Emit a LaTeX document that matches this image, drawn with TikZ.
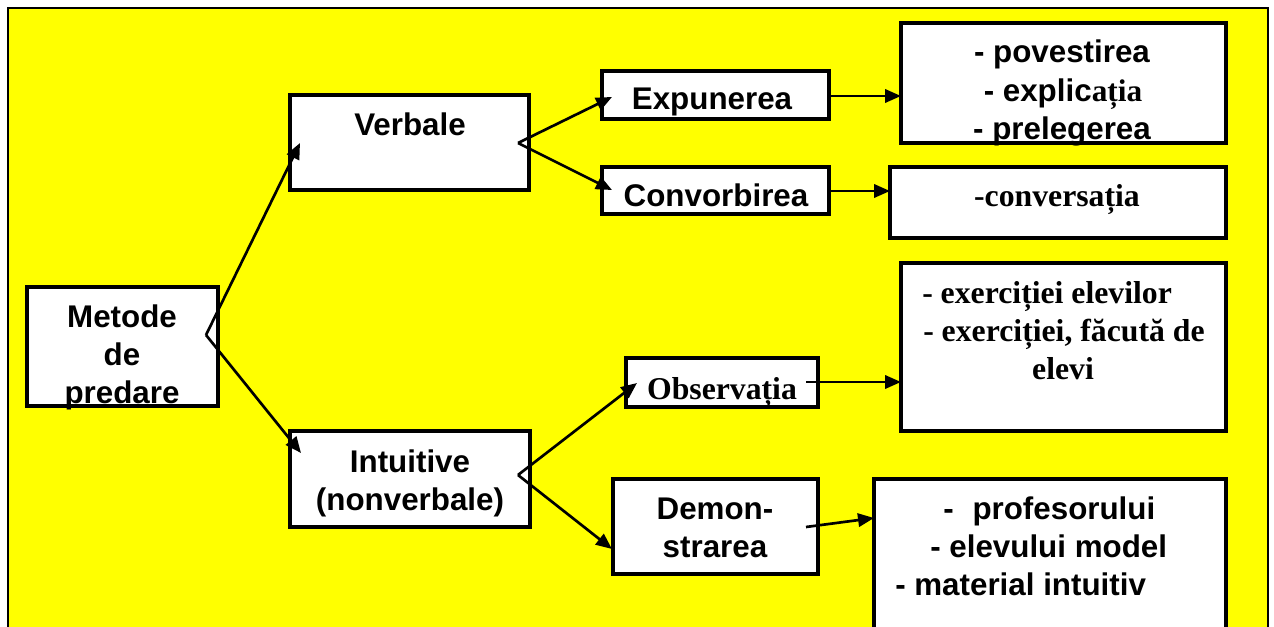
\documentclass[tikz,border=0pt]{standalone}
\usepackage{fontspec}
\setmainfont{Liberation Sans}
\newfontfamily\tnr{Liberation Serif}
\usetikzlibrary{arrows.meta,fit}
\definecolor{bgyellow}{RGB}{255,255,0}
\begin{document}
\begin{tikzpicture}[x=0.75pt,y=-0.75pt,
  box/.style={draw, line width=2.3pt, fill=white, inner sep=0pt},
  ar/.style={line width=2pt, -{Triangle[length=12pt,width=10pt]}},
  lbl/.style={font=\fontsize{23.5}{28.3}\selectfont\bfseries, inner sep=0pt, anchor=base, align=center},
  tlbl/.style={font=\fontsize{23.8}{28.3}\selectfont\tnr\bfseries, inner sep=0pt, anchor=base, align=center}]
\useasboundingbox (0,0) rectangle (1274,627);
\clip (0,0) rectangle (1274,627);
\fill[white] (0,0) rectangle (1274,627);
\draw[fill=bgyellow, line width=1.8pt] (8,8) rectangle (1268,660);

% boxes
\node[box, fit={(27,287)(218,406)}] (metode) {};
\node[box, fit={(290,95)(529,190)}] (verb) {};
\node[box, fit={(290,431)(530,527)}] (intu) {};
\node[box, fit={(602,71)(829,119)}] (expu) {};
\node[box, fit={(602,167)(829,214)}] (conv) {};
\node[box, fit={(901,23)(1226,143)}] (pove) {};
\node[box, fit={(890,167)(1226,238)}] (cvsa) {};
\node[box, fit={(626,358)(818,407)}] (obse) {};
\node[box, fit={(901,263)(1226,431)}] (exer) {};
\node[box, fit={(613,479)(818,574)}] (demo) {};
\node[box, fit={(874,479)(1226,660)}] (prof) {};

% connector end points
\coordinate (m0) at (206,335);
\coordinate (vtip) at (300,143);
\coordinate (itip) at (301,453);
\coordinate (v0) at (518,143);
\coordinate (etip) at (612,97);
\coordinate (ctip) at (612,190);
\coordinate (i0) at (518,475);
\coordinate (otip) at (637,383);
\coordinate (dtip) at (612,549);
\coordinate (e0) at (829,96);
\coordinate (e1) at (901,96);
\coordinate (c0) at (829,191);
\coordinate (c1) at (890,191);
\coordinate (o0) at (806,382);
\coordinate (o1) at (901,382);
\coordinate (d0) at (806,527);
\coordinate (d1) at (874,518);

\draw[ar] (m0) -- (vtip);
\draw[ar] (m0) -- (itip);
\draw[ar] (v0) -- (etip);
\draw[ar] (v0) -- (ctip);
\draw[ar] (i0) -- (otip);
\draw[ar] (i0) -- (dtip);
\draw[ar] (e0) -- (e1);
\draw[ar] (c0) -- (c1);
\draw[ar] (o0) -- (o1);
\draw[ar] (d0) -- (d1);

% texts
\node[lbl] (tmet) at (122,403) {Metode\\de\\predare};
\node[lbl] (tverb) at (410,136) {Verbale};
\node[lbl] (tintu) at (410,510) {Intuitive\\(nonverbale)};
\node[lbl] (texpu) at (712,110) {Expunerea};
\node[lbl] (tconv) at (716,207) {Convorbirea};
\node[lbl] (tpov1) at (1062,63) {- povestirea};
\node[lbl] (tpov2) at (1063,102) {- explic{\tnr ația}};
\node[lbl] (tpov3) at (1062,140) {- prelegerea};
\node[tlbl] (tcvsa) at (1057,207) {-conversația};
\node[tlbl] (tobse) at (722,399) {Observația};
\node[tlbl, anchor=base west] (tex1) at (922,303) {- exerciției elevilor};
\node[tlbl, anchor=base west] (tex2) at (923,341) {- exerciției, făcută de};
\node[tlbl] (tex3) at (1063,379) {elevi};
\node[lbl] (tdemo) at (715,557) {Demon-\\strarea};
\node[lbl, anchor=base west] (tpr1) at (943,519) {-\hspace{0.6em}profesorului};
\node[lbl, anchor=base west] (tpr2) at (930,557) {- elevului model};
\node[lbl, anchor=base west] (tpr3) at (895,595) {- material intuitiv};
\end{tikzpicture}
\end{document}
